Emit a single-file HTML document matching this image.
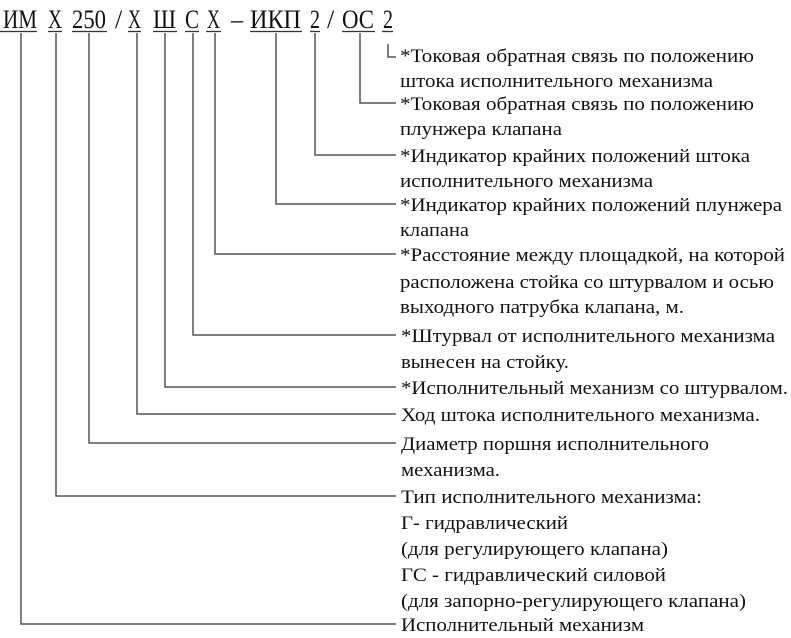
<!DOCTYPE html>
<html><head><meta charset="utf-8"><style>
html,body{margin:0;padding:0;background:#fff;width:791px;height:638px;overflow:hidden}
svg text{font-family:"Liberation Serif","DejaVu Serif",serif;fill:#111}
</style></head><body>
<svg width="791" height="638" viewBox="0 0 791 638" xmlns="http://www.w3.org/2000/svg">
<g font-size="26">
<text x="3" y="28" textLength="34" lengthAdjust="spacingAndGlyphs">ИМ</text>
<text x="48" y="28" textLength="14" lengthAdjust="spacingAndGlyphs">Х</text>
<text x="72" y="28" textLength="34" lengthAdjust="spacingAndGlyphs">250</text>
<text x="115" y="28">/</text>
<text x="128" y="28" textLength="13" lengthAdjust="spacingAndGlyphs">Х</text>
<text x="153" y="28" textLength="23" lengthAdjust="spacingAndGlyphs">Ш</text>
<text x="185" y="28" textLength="14" lengthAdjust="spacingAndGlyphs">С</text>
<text x="207" y="28" textLength="13" lengthAdjust="spacingAndGlyphs">Х</text>
<text x="231" y="28" textLength="12" lengthAdjust="spacingAndGlyphs">–</text>
<text x="250" y="28" textLength="51" lengthAdjust="spacingAndGlyphs">ИКП</text>
<text x="310" y="28" textLength="10" lengthAdjust="spacingAndGlyphs">2</text>
<text x="327" y="28">/</text>
<text x="342" y="28" textLength="32" lengthAdjust="spacingAndGlyphs">ОС</text>
<text x="383" y="28" textLength="10" lengthAdjust="spacingAndGlyphs">2</text>
</g>
<g stroke="#333" stroke-width="1.3" fill="none">
<path d="M0 31.5H37M48 31.5H62M72 31.5H107M128 31.5H141M153 31.5H177M185 31.5H199M206 31.5H221M250 31.5H302M310 31.5H320M342 31.5H375M382 31.5H393"/>
</g>
<g stroke="#555" stroke-width="1.5" fill="none">
<path d="M388 44V57H396"/>
<path d="M360 33V103H396"/>
<path d="M315 33V155H396"/>
<path d="M276 33V204H396"/>
<path d="M215 33V254H396"/>
<path d="M193 33V335H396"/>
<path d="M165 33V387H396"/>
<path d="M137 33V414H396"/>
<path d="M89 33V443H396"/>
<path d="M56 33V496H396"/>
<path d="M21 33V624H396"/>
</g>
<g font-size="19">
<text x="400" y="62" textLength="354" lengthAdjust="spacingAndGlyphs">*Токовая обратная связь по положению</text>
<text x="400" y="87" textLength="313" lengthAdjust="spacingAndGlyphs">штока исполнительного механизма</text>
<text x="400" y="110" textLength="354" lengthAdjust="spacingAndGlyphs">*Токовая обратная связь по положению</text>
<text x="400" y="135" textLength="162" lengthAdjust="spacingAndGlyphs">плунжера клапана</text>
<text x="400" y="162" textLength="350" lengthAdjust="spacingAndGlyphs">*Индикатор крайних положений штока</text>
<text x="400" y="187" textLength="253" lengthAdjust="spacingAndGlyphs">исполнительного механизма</text>
<text x="400" y="211" textLength="382" lengthAdjust="spacingAndGlyphs">*Индикатор крайних положений плунжера</text>
<text x="400" y="236" textLength="69" lengthAdjust="spacingAndGlyphs">клапана</text>
<text x="400" y="261" textLength="385" lengthAdjust="spacingAndGlyphs">*Расстояние между площадкой, на которой</text>
<text x="400" y="288" textLength="374" lengthAdjust="spacingAndGlyphs">расположена стойка со штурвалом и осью</text>
<text x="400" y="313" textLength="284" lengthAdjust="spacingAndGlyphs">выходного патрубка клапана, м.</text>
<text x="401" y="342" textLength="374" lengthAdjust="spacingAndGlyphs">*Штурвал от исполнительного механизма</text>
<text x="401" y="368" textLength="168" lengthAdjust="spacingAndGlyphs">вынесен на стойку.</text>
<text x="401" y="394" textLength="387" lengthAdjust="spacingAndGlyphs">*Исполнительный механизм со штурвалом.</text>
<text x="401" y="421" textLength="359" lengthAdjust="spacingAndGlyphs">Ход штока исполнительного механизма.</text>
<text x="401" y="450" textLength="308" lengthAdjust="spacingAndGlyphs">Диаметр поршня исполнительного</text>
<text x="401" y="476" textLength="99" lengthAdjust="spacingAndGlyphs">механизма.</text>
<text x="401" y="503" textLength="301" lengthAdjust="spacingAndGlyphs">Тип исполнительного механизма:</text>
<text x="401" y="529" textLength="167" lengthAdjust="spacingAndGlyphs">Г- гидравлический</text>
<text x="401" y="555" textLength="267" lengthAdjust="spacingAndGlyphs">(для регулирующего клапана)</text>
<text x="401" y="581" textLength="265" lengthAdjust="spacingAndGlyphs">ГС - гидравлический силовой</text>
<text x="401" y="607" textLength="345" lengthAdjust="spacingAndGlyphs">(для запорно-регулирующего клапана)</text>
<text x="401" y="631" textLength="243" lengthAdjust="spacingAndGlyphs">Исполнительный механизм</text>
</g>
</svg>
</body></html>
